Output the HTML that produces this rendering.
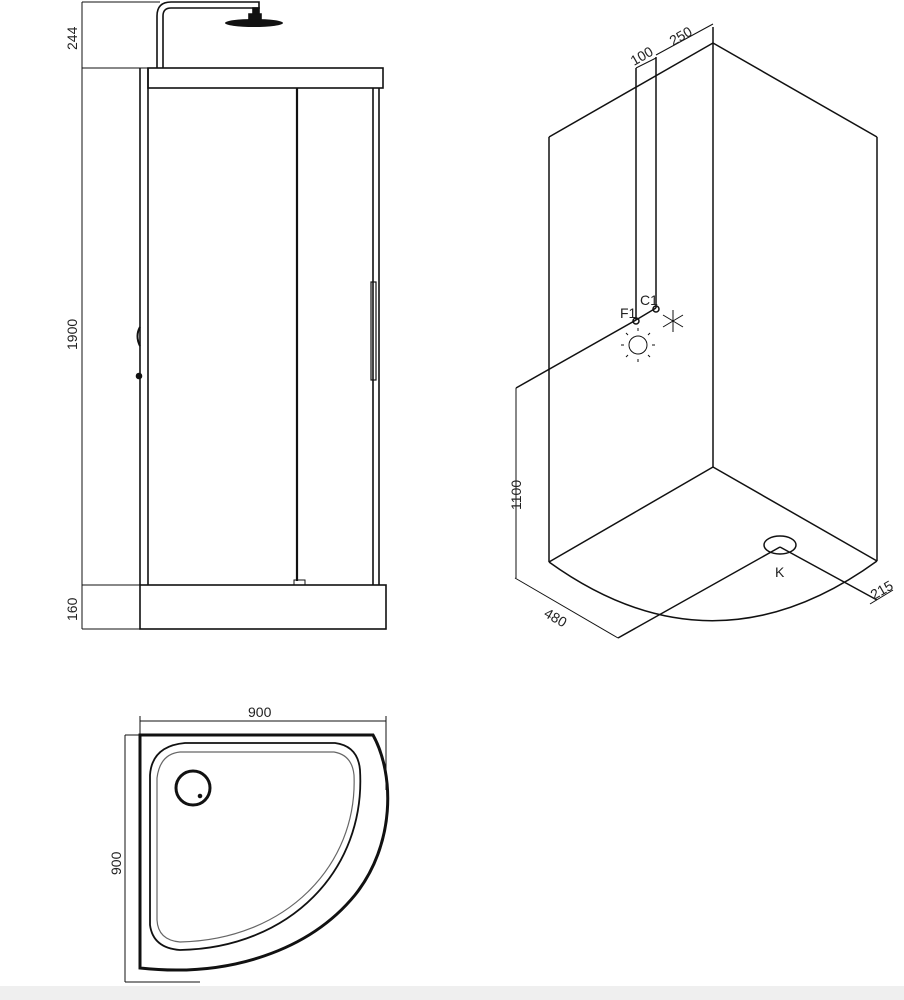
<!DOCTYPE html>
<html><head><style>
body{margin:0;background:#fff;width:904px;height:1000px;overflow:hidden}
svg{display:block}
text{font-family:"Liberation Sans",sans-serif;font-size:14px;fill:#222;stroke:none}
</style></head><body>
<svg width="904" height="1000" viewBox="0 0 904 1000" fill="none" stroke="#111" stroke-width="1.6">
<rect x="0" y="986" width="904" height="14" fill="#efefef" stroke="none"/>
<g>
<line x1="82" y1="2" x2="82" y2="629" stroke-width="1"/>
<line x1="82" y1="2" x2="160" y2="2" stroke-width="1"/>
<line x1="82" y1="68" x2="148" y2="68" stroke-width="1"/>
<line x1="82" y1="585" x2="140" y2="585" stroke-width="1"/>
<line x1="82" y1="629" x2="140" y2="629" stroke-width="1"/>
<text transform="translate(77,50) rotate(-90)">244</text>
<text transform="translate(77,350) rotate(-90)">1900</text>
<text transform="translate(77,621) rotate(-90)">160</text>
<path d="M157,68 V16 Q157,2 171,2 H259 V8 H171 Q163,8 163,16 V68"/>
<rect x="253" y="8" width="6" height="6" fill="#111"/>
<path d="M249,14 h12 v6 h-12z" fill="#111"/>
<ellipse cx="254" cy="23" rx="29" ry="4" fill="#111" stroke="none"/>
<rect x="148" y="68" width="235" height="20"/>
<line x1="140" y1="68" x2="140" y2="585"/>
<line x1="148" y1="68" x2="148" y2="585"/>
<line x1="297" y1="88" x2="297" y2="581" stroke-width="2.2"/>
<rect x="294" y="580" width="11" height="5" stroke-width="1"/>
<line x1="373" y1="88" x2="373" y2="585"/>
<line x1="379" y1="88" x2="379" y2="585"/>
<rect x="371" y="282" width="5" height="98" stroke-width="1.2"/>
<path d="M140,327 Q135,336 140,346" stroke-width="2"/>
<circle cx="139" cy="376" r="2.5" fill="#111"/>
<rect x="140" y="585" width="246" height="44"/>
</g>
<g stroke-width="1.5">
<line x1="713" y1="27" x2="713" y2="467"/>
<line x1="713" y1="43" x2="549" y2="137"/>
<line x1="713" y1="43" x2="877" y2="137"/>
<line x1="549" y1="137" x2="549" y2="562"/>
<line x1="877" y1="137" x2="877" y2="561"/>
<line x1="713" y1="467" x2="549" y2="562"/>
<line x1="713" y1="467" x2="877" y2="561"/>
<path d="M549,562 Q713,680 877,561"/>
<ellipse cx="780" cy="545" rx="16" ry="9"/>
<line x1="780" y1="547" x2="618" y2="638"/>
<line x1="780" y1="547" x2="877" y2="600"/>
<line x1="870" y1="604" x2="893" y2="590" stroke-width="1"/>
<line x1="515" y1="578" x2="618" y2="638" stroke-width="1"/>
<line x1="516" y1="388" x2="516" y2="578" stroke-width="1"/>
<line x1="516" y1="388" x2="636" y2="320"/>
<line x1="636" y1="320" x2="656" y2="308"/>
<line x1="636" y1="68" x2="636" y2="320"/>
<line x1="656" y1="57" x2="656" y2="308"/>
<line x1="636" y1="68" x2="656" y2="58" stroke-width="1"/>
<line x1="656" y1="55" x2="713" y2="24" stroke-width="1"/>
<circle cx="636" cy="321" r="3"/>
<circle cx="656" cy="309" r="3"/>
</g>
<text x="620" y="318" font-size="12">F1</text>
<text x="640" y="305" font-size="12">C1</text>
<text transform="translate(634,66) rotate(-30)">100</text>
<text transform="translate(673,46) rotate(-30)">250</text>
<text transform="translate(521,510) rotate(-90)">1100</text>
<text transform="translate(543,616) rotate(30)">480</text>
<text transform="translate(874,600) rotate(-30)">215</text>
<text x="775" y="577" font-size="12">K</text>
<g stroke-width="1">
<circle cx="638" cy="345" r="9"/>
<path d="M638,331v-3M638,359v3M624,345h-3M652,345h3M628,335l-2,-2M648,335l2,-2M628,355l-2,2M648,355l2,2"/>
<path d="M673,310v22M663,315l20,12M663,327l20,-12"/>
</g>
<line x1="140" y1="721" x2="386" y2="721" stroke-width="1"/>
<line x1="140" y1="716" x2="140" y2="735" stroke-width="1"/>
<line x1="386" y1="716" x2="386" y2="790" stroke-width="1"/>
<text x="248" y="717">900</text>
<line x1="125" y1="735" x2="125" y2="982" stroke-width="1"/>
<line x1="125" y1="735" x2="140" y2="735" stroke-width="1"/>
<line x1="125" y1="982" x2="200" y2="982" stroke-width="1"/>
<text transform="translate(121,875) rotate(-90)">900</text>
<path d="M140,735 H373 C395,775 395,845 355,895 C310,950 230,978 140,968 Z" stroke-width="3"/>
<path d="M185,743 H335 Q358,746 360,770 C366,870 290,948 180,950 Q153,948 150,925 V775 Q152,746 185,743 Z" stroke-width="1.8"/>
<path d="M180,752 H334 Q352,755 354,775 C358,866 285,940 180,942 Q158,940 157,920 V778 Q160,754 180,752 Z" stroke="#666" stroke-width="1.2"/>
<circle cx="193" cy="788" r="17" stroke-width="3"/>
<circle cx="200" cy="796" r="1.5" fill="#111"/>
</svg>
</body></html>
